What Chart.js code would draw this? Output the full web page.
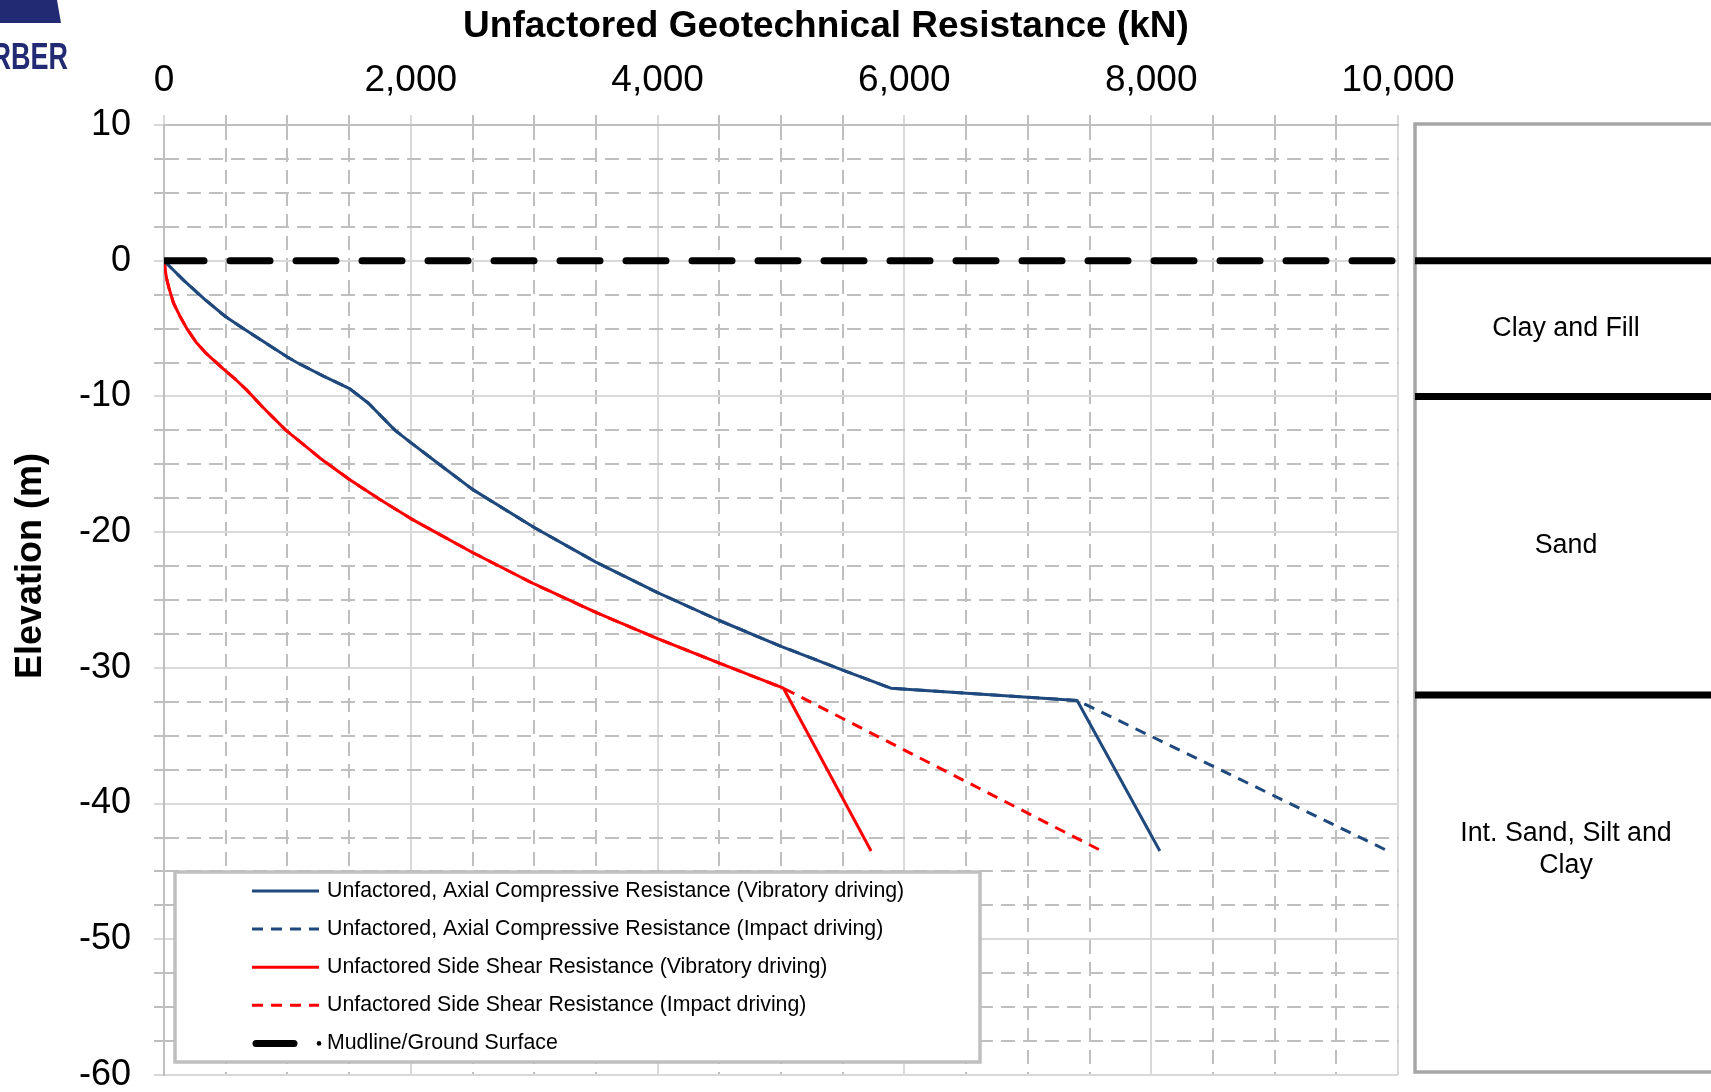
<!DOCTYPE html>
<html>
<head>
<meta charset="utf-8">
<title>Unfactored Geotechnical Resistance</title>
<script src="https://cdn.jsdelivr.net/npm/chart.js@4.4.1/dist/chart.umd.min.js"></script>
<style>
  html, body { margin: 0; padding: 0; background: #fff; }
  #wrap { position: relative; width: 1711px; height: 1092px; }
</style>
</head>
<body>
<div id="wrap"><canvas id="resistanceChart"></canvas></div>
<script>
// Axial compressive resistance (kN) vs elevation (m); vibratory and impact share the upper profile
const axialUpperKN   = [0, 160, 330, 500, 643, 1000, 1076, 1292, 1500, 1657, 1873, 2000, 2230, 2500, 3000, 3500, 4000, 4500, 5000, 5500, 5890, 7400];
const axialUpperElev = [0, -1.45, -2.85, -4.13, -5.0, -7.1, -7.5, -8.5, -9.4, -10.5, -12.5, -13.4, -15.0, -16.85, -19.66, -22.21, -24.46, -26.51, -28.41, -30.16, -31.5, -32.4];
const axialVibTipKN = [8070];
const axialImpactTipKN = [9920];

// Side shear resistance (kN) vs elevation (m)
const sideUpperKN   = [0, 8, 23, 40, 76, 130, 185, 260, 344, 478, 580, 667, 801, 989, 1124, 1265, 1500, 1750, 2000, 2500, 3000, 3500, 4000, 4500, 5020];
const sideUpperElev = [0, -0.6, -1.4, -2.0, -3.1, -4.1, -5.0, -6.0, -6.85, -7.95, -8.75, -9.5, -10.8, -12.5, -13.5, -14.55, -16.1, -17.6, -19.0, -21.5, -23.82, -25.92, -27.85, -29.65, -31.5];
const sideVibTipKN = [5730];
const sideImpactTipKN = [7600];

const tipElev = [-43.5];

// Mudline across the full resistance range
const mudlineKN = [0, 10000];
const mudlineElev = [0, 0];

// Soil column
const soilBoundaries = [0, -10, -32];
const soilNames = ['Clay and Fill', 'Sand', 'Int. Sand, Silt and\nClay'];
const soilLabelElev = [-5, -21, -43.4];

const seriesLabels = [
  'Unfactored, Axial Compressive Resistance (Vibratory driving)',
  'Unfactored, Axial Compressive Resistance (Impact driving)',
  'Unfactored Side Shear Resistance (Vibratory driving)',
  'Unfactored Side Shear Resistance (Impact driving)',
  'Mudline/Ground Surface'
];

const FONT = "'Liberation Sans', Arial, sans-serif";
const BLUE = '#1f497d';
const RED = '#ff0000';
const DASH = [11, 8];

const toPts = (xs, ys) => xs.map((x, i) => ({ x, y: ys[i] }));

const axialVib = toPts(axialUpperKN.concat(axialVibTipKN), axialUpperElev.concat(tipElev));
const axialImpact = toPts(axialUpperKN.concat(axialImpactTipKN), axialUpperElev.concat(tipElev));
const sideVib = toPts(sideUpperKN.concat(sideVibTipKN), sideUpperElev.concat(tipElev));
const sideImpact = toPts(sideUpperKN.concat(sideImpactTipKN), sideUpperElev.concat(tipElev));
const mudline = toPts(mudlineKN, mudlineElev);

const line = (label, data, color, width, dash) => ({
  label, data,
  showLine: true,
  borderColor: color,
  backgroundColor: color,
  borderWidth: width,
  borderDash: dash || [],
  borderJoinStyle: 'round',
  pointRadius: 0,
  tension: 0,
  fill: false
});

// index 0 ends up drawn last, so the mudline sits on top
const datasets = [
  Object.assign(line(seriesLabels[4], mudline, '#000', 7, [40, 26]), { borderCapStyle: 'round' }),
  line(seriesLabels[0], axialVib, BLUE, 3),
  line(seriesLabels[2], sideVib, RED, 3),
  line(seriesLabels[1], axialImpact, BLUE, 3, DASH),
  line(seriesLabels[3], sideImpact, RED, 3, DASH)
];

const isMajorX = v => v % 2000 === 0;
const isMajorY = v => v % 10 === 0;

/* ── title, axis title, legend box, soil column, logo ── */
const overlay = {
  id: 'overlay',
  afterDraw(chart) {
    const { ctx, chartArea: ca, scales: { y } } = chart;
    ctx.save();

    // logo corner
    ctx.fillStyle = '#212a72';
    ctx.beginPath();
    ctx.moveTo(0, 0); ctx.lineTo(57, 0); ctx.lineTo(61, 23); ctx.lineTo(0, 23);
    ctx.closePath(); ctx.fill();
    ctx.save();
    ctx.translate(68, 69);
    ctx.scale(0.75, 1);
    ctx.font = 'bold 36px ' + FONT;
    ctx.textAlign = 'right';
    ctx.textBaseline = 'alphabetic';
    ctx.fillText('RBER', 0, 0);
    ctx.restore();

    // titles
    ctx.fillStyle = '#000';
    ctx.font = 'bold 37px ' + FONT;
    ctx.textAlign = 'center';
    ctx.textBaseline = 'middle';
    ctx.fillText('Unfactored Geotechnical Resistance (kN)', 826, 27);
    ctx.font = 'bold 36px ' + FONT;
    ctx.save();
    ctx.translate(31, 566);
    ctx.rotate(-Math.PI / 2);
    ctx.fillText('Elevation (m)', 0, 0);
    ctx.restore();

    // legend box inside the plot
    const lg = { left: ca.left + 11, top: 872, right: 980, bottom: ca.bottom - 13 };
    ctx.fillStyle = '#fff';
    ctx.fillRect(lg.left, lg.top, lg.right - lg.left, lg.bottom - lg.top);
    ctx.strokeStyle = '#bfbfbf';
    ctx.lineWidth = 3.5;
    ctx.strokeRect(lg.left, lg.top, lg.right - lg.left, lg.bottom - lg.top);

    const legendOrder = [1, 3, 2, 4, 0];
    ctx.font = '21.3px ' + FONT;
    ctx.textAlign = 'left';
    ctx.textBaseline = 'middle';
    legendOrder.forEach((di, row) => {
      const ds = chart.data.datasets[di];
      const ry = 891 + row * 38.1;
      ctx.strokeStyle = ds.borderColor;
      ctx.lineWidth = ds.borderWidth;
      if (di === 0) {
        ctx.lineCap = 'round';
        ctx.setLineDash([]);
        ctx.beginPath(); ctx.moveTo(256, ry); ctx.lineTo(294, ry); ctx.stroke();
        ctx.fillStyle = '#000';
        ctx.beginPath(); ctx.arc(319, ry, 2.3, 0, Math.PI * 2); ctx.fill();
      } else {
        ctx.lineCap = 'butt';
        ctx.setLineDash(ds.borderDash);
        ctx.beginPath(); ctx.moveTo(252, ry); ctx.lineTo(319, ry); ctx.stroke();
      }
      ctx.setLineDash([]);
      ctx.fillStyle = '#000';
      ctx.fillText(ds.label, 327, ry);
    });

    // soil column to the right of the plot
    const px = ca.right + 17;
    const top = y.getPixelForValue(10) - 1;
    const bottom = y.getPixelForValue(-60) - 3;
    ctx.lineCap = 'butt';
    ctx.strokeStyle = '#a6a6a6';
    ctx.lineWidth = 3.5;
    ctx.strokeRect(px, top, chart.width - px + 10, bottom - top);
    ctx.strokeStyle = '#000';
    ctx.lineWidth = 7;
    soilBoundaries.forEach(el => {
      const py = y.getPixelForValue(el);
      ctx.beginPath(); ctx.moveTo(px, py); ctx.lineTo(chart.width, py); ctx.stroke();
    });
    ctx.fillStyle = '#000';
    ctx.font = '26.8px ' + FONT;
    ctx.textAlign = 'center';
    soilNames.forEach((name, i) => {
      const lines = name.split('\n');
      const cy = y.getPixelForValue(soilLabelElev[i]);
      lines.forEach((t, k) => {
        ctx.fillText(t, px + 151, cy + (k - (lines.length - 1) / 2) * 32);
      });
    });

    ctx.restore();
  }
};

Chart.defaults.font.family = FONT;
Chart.defaults.color = '#000';

new Chart(document.getElementById('resistanceChart'), {
  type: 'scatter',
  data: { datasets },
  options: {
    responsive: true,
    maintainAspectRatio: false,
    animation: false,
    layout: { padding: { top: 0, left: 0, right: 313, bottom: 17 } },
    plugins: {
      legend: { display: false },
      title: { display: false },
      tooltip: { enabled: false }
    },
    scales: {
      x: {
        type: 'linear',
        position: 'top',
        min: 0,
        max: 10000,
        afterFit: s => { s.height = 125; s.paddingLeft = 0; s.paddingRight = 0; },
        ticks: {
          stepSize: 500,
          autoSkip: false,
          maxRotation: 0,
          padding: 12,
          font: { size: 37 },
          callback: v => isMajorX(v) ? v.toLocaleString('en-US') : ''
        },
        grid: {
          lineWidth: 2,
          tickLength: 10,
          color: ctx => isMajorX(ctx.tick.value) ? '#d9d9d9' : '#bfbfbf'
        },
        border: {
          color: '#bfbfbf',
          width: 2,
          dash: ctx => (ctx.tick && !isMajorX(ctx.tick.value)) ? [14, 8] : []
        }
      },
      y: {
        type: 'linear',
        min: -60,
        max: 10,
        afterFit: s => { s.width = 164; s.paddingTop = 0; s.paddingBottom = 0; },
        ticks: {
          stepSize: 2.5,
          autoSkip: false,
          padding: 23,
          font: { size: 36 },
          callback: v => isMajorY(v) ? v : ''
        },
        grid: {
          lineWidth: 2,
          tickLength: 10,
          color: ctx => isMajorY(ctx.tick.value) ? '#d9d9d9' : '#bfbfbf'
        },
        border: {
          color: '#bfbfbf',
          width: 2,
          dash: ctx => (ctx.tick && !isMajorY(ctx.tick.value)) ? [14, 8] : []
        }
      }
    }
  },
  plugins: [overlay]
});
</script>
</body>
</html>
